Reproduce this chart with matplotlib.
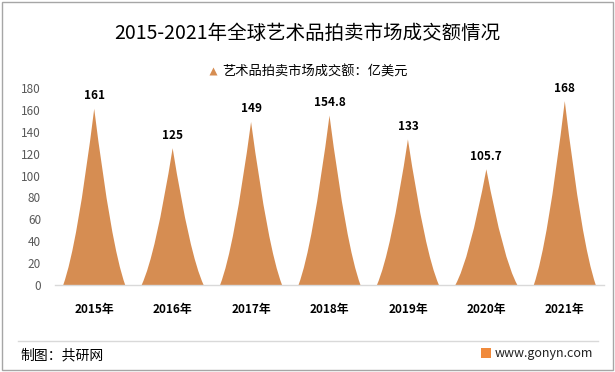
import matplotlib.pyplot as plt
from matplotlib.path import Path
from matplotlib.patches import PathPatch, Rectangle
from matplotlib.lines import Line2D

plt.rcParams['font.family'] = ['Noto Sans CJK SC', 'DejaVu Sans']

# 数据
years = ['2015年', '2016年', '2017年', '2018年', '2019年', '2020年', '2021年']
values = [161, 125, 149, 154.8, 133, 105.7, 168]
value_labels = ['161', '125', '149', '154.8', '133', '105.7', '168']

title = '2015-2021年全球艺术品拍卖市场成交额情况'
series_name = '艺术品拍卖市场成交额：亿美元'
peak_color = '#D68D52'


def peak_path(xc, h, width=0.79, cu=0.55, cv=0.22):
    """Forma de pico (lados cóncavos) como en Excel."""
    hw = width / 2
    verts = [
        (xc - hw, 0),
        (xc - hw * cu, h * cv), (xc, h),
        (xc + hw * cu, h * cv), (xc + hw, 0),
        (xc - hw, 0),
    ]
    codes = [Path.MOVETO, Path.CURVE3, Path.CURVE3,
             Path.CURVE3, Path.CURVE3, Path.CLOSEPOLY]
    return Path(verts, codes)


fig = plt.figure(figsize=(6.15, 3.72), dpi=100)
ax = fig.add_axes([55 / 615, 87 / 372, 549 / 615, 197 / 372])

for i, v in enumerate(values):
    ax.add_patch(PathPatch(peak_path(i, v), facecolor=peak_color,
                           edgecolor='none'))
    ax.text(i, v + 6, value_labels[i], ha='center', va='bottom',
            fontsize=8.5, fontweight='bold', color='black')

ax.set_xlim(-0.5, len(years) - 0.5)
ax.set_ylim(0, 180)
ax.set_yticks(range(0, 181, 20))
ax.set_xticks(range(len(years)))
ax.set_xticklabels(years, fontsize=8.5, fontweight='bold')
ax.tick_params(axis='x', length=0, pad=13)
ax.tick_params(axis='y', length=0, labelsize=8.5, labelcolor='#595959', pad=10)
for s in ['top', 'right', 'left']:
    ax.spines[s].set_visible(False)
ax.spines['bottom'].set_color('#D9D9D9')
ax.spines['bottom'].set_linewidth(1)

# título y leyenda
fig.text(0.5, 1 - 33 / 372, title, ha='center', va='center', fontsize=14)
leg = ax.legend([Line2D([], [], marker='^', color='none',
                        markerfacecolor=peak_color, markeredgecolor='none',
                        markersize=6)],
                [series_name], loc='center', bbox_to_anchor=(0.5, 1 - 72 / 372),
                bbox_transform=fig.transFigure, frameon=False, fontsize=9.5,
                handlelength=0.8, handletextpad=0.3)

# pie de figura
fig.add_artist(Line2D([18 / 615, 598 / 615], [1 - 341 / 372] * 2,
                      color='#D9D9D9', linewidth=1))
fig.text(20 / 615, 1 - 355 / 372, '制图：共研网', ha='left', va='center',
         fontsize=10)
fig.text(593 / 615, 1 - 353 / 372, 'www.gonyn.com', ha='right', va='center',
         fontsize=9, color='#222222')
fig.add_artist(Rectangle((481 / 615, 1 - 358 / 372), 10 / 615, 10 / 372,
                         transform=fig.transFigure, facecolor='#F08A3C',
                         edgecolor='none'))

# borde
fig.add_artist(Rectangle((2 / 615, 2 / 372), 611 / 615, 368 / 372,
                         transform=fig.transFigure, facecolor='none',
                         edgecolor='#A6A6A6', linewidth=1))

fig.savefig('out.png', dpi=100)
